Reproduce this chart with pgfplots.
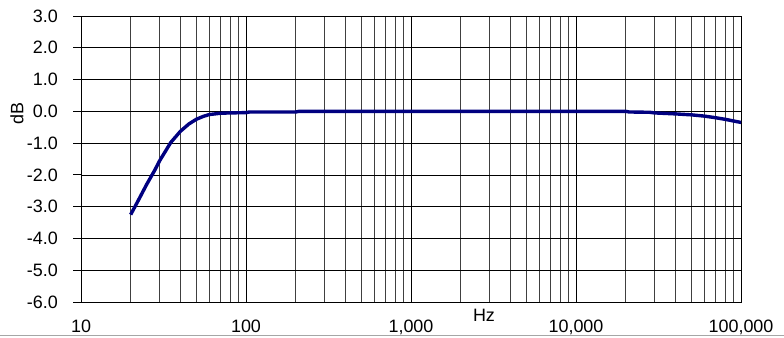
\documentclass[border=0pt]{standalone}
\usepackage{pgfplots}
\pgfplotsset{compat=1.18}
\usepackage{fontspec}
\setmainfont{Liberation Sans}
\definecolor{navy}{RGB}{0,0,128}
\begin{document}
\fontsize{18}{21}\selectfont
\begin{tikzpicture}[x=1bp,y=1bp]
\useasboundingbox (0,0) rectangle (784,337);
\draw[gray!70, line width=0.8bp] (0,1.5) -- (784,1.5);
\begin{axis}[
  at={(81bp,35bp)}, anchor=south west,
  scale only axis, width=660bp, height=286bp,
  xmode=log, xmin=10, xmax=100000,
  ymin=-6, ymax=3,
  xtick={10,100,1000,10000,100000},
  xticklabels={10,100,{1,000},{10,000},{100,000}},
  ytick={-6,-5,-4,-3,-2,-1,0,1,2,3},
  yticklabels={-6.0,-5.0,-4.0,-3.0,-2.0,-1.0,0.0,1.0,2.0,3.0},
  grid=both,
  major grid style={black, line width=0.7bp},
  minor grid style={black!75, line width=0.6bp},
  axis line style={black, line width=1bp},
  xtick style={draw=none},
  minor tick length=0pt,
  major tick length=8bp,
  ytick style={black, line width=0.8bp},
  tick align=outside,
  ytick pos=left,
  xtick pos=bottom,
  yticklabel style={font=\fontsize{18}{21}\selectfont, xshift=-9bp},
  xticklabel style={font=\fontsize{18}{21}\selectfont, yshift=-4bp},
  clip=false,
]
\addplot[navy, line width=3.4bp, line join=round] coordinates {
(20,-3.25) (22,-2.85) (25,-2.3) (28,-1.85) (30,-1.55) (35,-0.98) (40,-0.63)
(45,-0.40) (50,-0.25) (55,-0.16) (60,-0.10) (70,-0.06) (80,-0.05) (100,-0.04)
(105,-0.02) (200,-0.02) (210,0.0) (20000,0.0) (21000,-0.02) (28000,-0.03)
(30000,-0.05) (40000,-0.08) (50000,-0.11) (60000,-0.15) (70000,-0.20)
(80000,-0.25) (100000,-0.35)
};
\end{axis}
\node[rotate=90, font=\fontsize{18}{21}\selectfont] at (17,223) {dB};
\node[font=\fontsize{18}{21}\selectfont] at (484,22) {Hz};
\end{tikzpicture}
\end{document}
